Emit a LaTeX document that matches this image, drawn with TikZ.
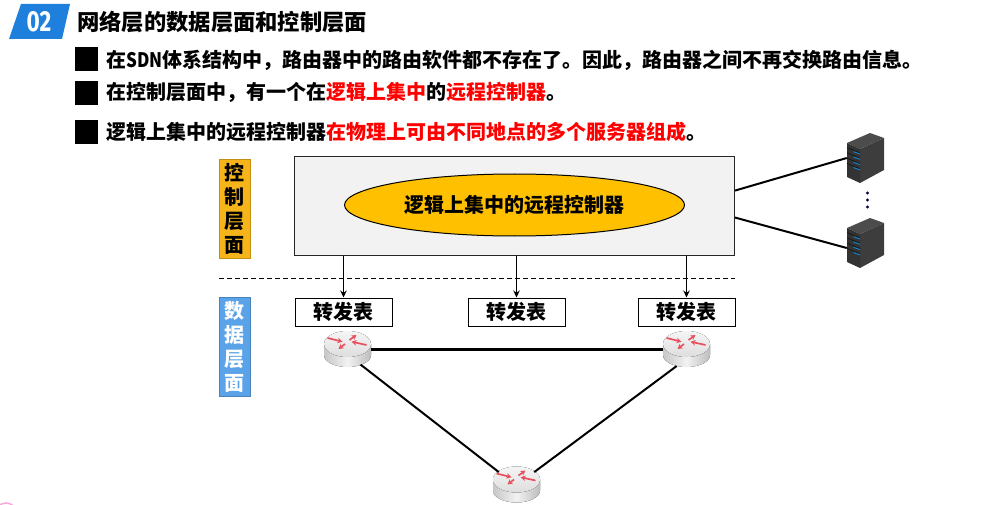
\documentclass[tikz,border=0pt]{standalone}
\usepackage{fontspec}
\setmainfont{Noto Sans CJK SC}
\newfontfamily\numfont{Fira Sans}
\usetikzlibrary{arrows.meta,shapes.geometric}
\definecolor{tagblue}{HTML}{1F7FDC}
\definecolor{ctrlorange}{HTML}{F4B41A}
\definecolor{datablue}{HTML}{5BA3E8}
\definecolor{eggfill}{HTML}{FFC000}
\definecolor{panelgray}{HTML}{F2F2F2}
\definecolor{arrowred}{HTML}{E8505F}
\newcommand{\hot}[1]{\textcolor{red}{#1}}
\tikzset{
  redtip/.style={arrowred,line width=1.7pt,-{Stealth[length=5pt,width=5.5pt]}},
  router/.pic={
    \fill[left color=black!22,right color=black!26,middle color=black!5] (-23.5,-5) -- (-23.5,6) arc[start angle=180,end angle=0,x radius=23.5,y radius=12] -- (23.5,-5) -- cycle;
    \fill[top color=black!4,bottom color=black!13] (0,-5) ellipse [x radius=23.5,y radius=13];
    \draw[redtip] (-20,-11) -- (-5,-7.3);
    \draw[redtip] (19,-4) -- (4,-7.3);
    \draw[redtip] (2,-9) -- (9,-14);
    \draw[redtip] (-2.5,-5) -- (-9,0);
  },
  rack/.pic={
    \fill[black!70] (-18.5,-15) -- (4.5,-25) -- (18.5,-20) -- (-5.5,-9) -- cycle;
    \fill[black!76] (-5.5,-9) -- (18.5,-20) -- (18.5,12) -- (-5.5,25) -- cycle;
    \fill[black!80] (-18.5,-15) -- (-5.5,-9) -- (-5.5,25) -- (-18.5,19) -- cycle;
    \foreach \k in {0,1,2,3} {
      \draw[black!95,line width=.5pt] (-18.5,{-10.5+5.3*\k}) -- (-5.5,{-5+5.3*\k});
      \draw[cyan!70!blue,line width=.9pt] (-12,{-6.3+5.3*\k}) -- (-5.5,{-4+5.3*\k});
    }
  }
}
\begin{document}
\begin{tikzpicture}[x=1pt,y=-1pt,font=\bfseries\fontsize{20}{24}\selectfont,
  itm/.style={anchor=west,inner sep=0pt},
  bul/.style={fill=black,inner sep=0pt,minimum width=23pt,minimum height=24pt},
  fw/.style={draw,line width=1pt,fill=white,inner sep=0pt,minimum width=97pt,minimum height=28pt},
  side/.style={draw=#1!80!black,fill=#1,line width=.6pt,inner sep=0pt,minimum width=31pt,minimum height=99pt,align=center,font=\bfseries\fontsize{20}{24}\selectfont},
  rt/.style={ellipse,inner sep=0pt,minimum width=47pt,minimum height=37pt},
  srv/.style={inner sep=0pt,minimum width=37pt,minimum height=50pt}]
  \useasboundingbox (0,0) rectangle (1006,505);

  % heading
  \fill[tagblue] (21,4) -- (70,4) -- (62,39) -- (9,39) -- cycle;
  \node[white,inner sep=0pt] (tag) at (39,22) {\scalebox{.78}[1]{\numfont\bfseries\fontsize{29}{29}\selectfont 02}};
  \node[itm,font=\bfseries\fontsize{22.3}{26}\selectfont] (ttl) at (77,22) {网络层的数据层面和控制层面};
  \node[bul] (b1) at (86.5,59) {};
  \node[bul] (b2) at (86.5,93) {};
  \node[bul] (b3) at (86.5,132) {};
  \node[itm] (t1) at (106,60) {在\scalebox{.85}[1]{SDN}体系结构中，路由器中的路由软件都不存在了。因此，路由器之间不再交换路由信息。};
  \node[itm] (t2) at (106,92) {在控制层面中，有一个在\hot{逻辑上集中}的\hot{远程控制器}。};
  \node[itm] (t3) at (106,132) {逻辑上集中的远程控制器\hot{在物理上可由不同地点的多个服务器组成}。};

  % control plane
  \node[side=ctrlorange] (cl) at (234.5,208.5) {控\\制\\层\\面};
  \node[draw=black!85,line width=1pt,fill=panelgray,minimum width=440pt,minimum height=98pt,inner sep=0pt] (ctrl) at (514.5,206) {};
  \node[ellipse,draw,line width=1pt,fill=eggfill,minimum width=340pt,minimum height=62pt,inner sep=0pt] (egg) at (514.5,205) {逻辑上集中的远程控制器};

  \node[srv] (s1) at (865.5,158) {};
  \node[srv] (s2) at (865.5,243) {};
  \foreach \n in {s1,s2} \pic at (\n) {rack};
  \foreach \y in {193,200,207} \fill[black!80!blue] (867.5,\y) circle (1.6);
  \draw[line width=2pt] (ctrl.4) -- (s1.west);
  \draw[line width=2pt] (ctrl.-3.5) -- (s2.195);

  % split
  \coordinate (dl) at (219,278);
  \coordinate (dr) at (735,278);
  \draw[dash pattern=on 5pt off 3pt,line width=.9pt] (dl) -- (dr);

  % data plane
  \node[side=datablue,text=white] (dp) at (234.5,346.5) {数\\据\\层\\面};
  \node[fw] (f1) at (343.5,312) {转发表};
  \node[fw] (f2) at (516.5,312) {转发表};
  \node[fw] (f3) at (686.5,312) {转发表};
  \foreach \n in {f1,f2,f3} \draw[line width=1.6pt,-{Stealth[length=7pt,width=6.5pt]}] (\n |- ctrl.south) -- (\n.north);

  \node[rt] (r1) at (347.5,349) {};
  \node[rt] (r2) at (686.5,349) {};
  \node[rt] (r3) at (516.5,484.5) {};
  \foreach \n in {r1,r2,r3} \pic at (\n) {router};
  \draw[line width=3pt] (r1) -- (r2);
  \draw[line width=2pt] (r1.-50) -- (r3.145);
  \draw[line width=2pt] (r2.-120) -- (r3.35);

  % cut-off mark at the lower edge
  \draw[magenta!35,line width=1.5pt] (6,514) circle (11);
\end{tikzpicture}
\end{document}
